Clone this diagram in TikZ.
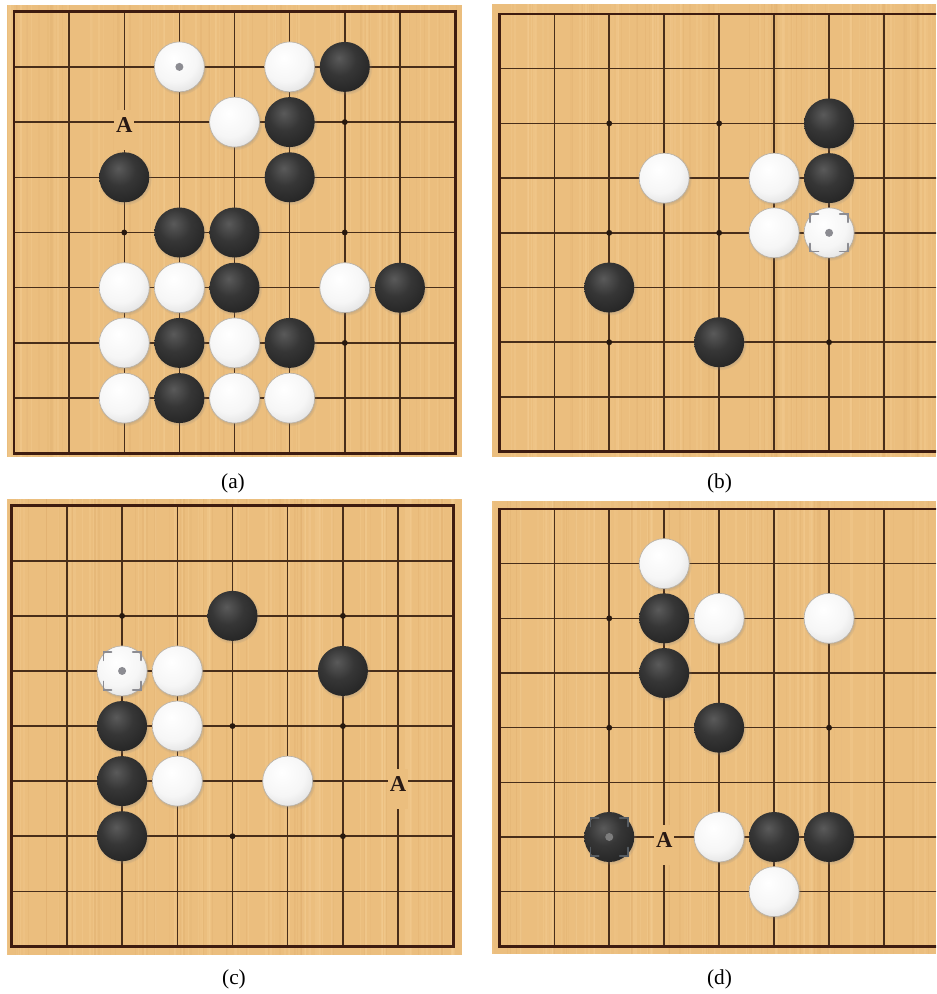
\documentclass[tikz,border=0pt]{standalone}
\usepackage{fontspec}
\setmainfont{Liberation Serif}
\usetikzlibrary{shadows}
\definecolor{boardbg}{RGB}{235,190,126}
\definecolor{gridcol}{RGB}{72,46,26}
\definecolor{bordercol}{RGB}{62,28,16}
\definecolor{starcol}{RGB}{40,25,15}
\definecolor{bhi}{RGB}{90,90,90}
\definecolor{bmid}{RGB}{54,54,54}
\definecolor{bedge}{RGB}{26,26,26}
\definecolor{whi}{RGB}{255,255,255}
\definecolor{wmid}{RGB}{246,246,246}
\definecolor{wedge}{RGB}{206,206,206}
\definecolor{wrim}{RGB}{185,178,168}
\definecolor{markgray}{RGB}{140,140,146}
\definecolor{markdark}{RGB}{86,92,98}
\definecolor{markdot}{RGB}{125,125,125}
\definecolor{grainlight}{RGB}{250,215,160}
\definecolor{graindark}{RGB}{205,150,85}
\definecolor{labelcol}{RGB}{40,25,20}
\pgfdeclareradialshading{bstoneshade}{\pgfpoint{-6bp}{9bp}}{color(0bp)=(bhi); color(16bp)=(bmid); color(44bp)=(bedge); color(100bp)=(bedge)}
\pgfdeclareradialshading{wstoneshade}{\pgfpoint{-6bp}{9bp}}{color(0bp)=(whi); color(22bp)=(wmid); color(46bp)=(wedge); color(100bp)=(wedge)}
\tikzset{
  boardfill/.style={fill=boardbg},
  gridline/.style={draw=gridcol, line width=1.15pt},
  boardborder/.style={draw=bordercol, line width=2.2pt},
  starpt/.style={circle, fill=starcol, minimum size=4.4pt, inner sep=0pt},
  stone/.style={circle, minimum size=37.5pt, inner sep=0pt,
    circular drop shadow={shadow xshift=0.5pt, shadow yshift=-0.8pt, shadow scale=1.08, opacity=0.32}},
  bstone/.style={stone, shading=bstoneshade},
  wstone/.style={stone, shading=wstoneshade, draw=wrim, line width=0.5pt},
  pointmark/.style={font=\rmfamily\bfseries\fontsize{17}{17}\selectfont, text=labelcol,
    fill=boardbg, inner sep=0pt, minimum width=15pt, text height=17pt, text depth=13pt,
    anchor=base, yshift=-7.8pt},
  captiontext/.style={font=\fontsize{16}{19}\selectfont, anchor=base},
}
\newcommand\lastmove[3]{%
  \draw[#2, line width=1.4pt, line cap=round]
    ([shift={(-14pt,8pt)}]#1.center) -- ++(0,6pt) -- ++(6pt,0)
    ([shift={(8pt,14pt)}]#1.center) -- ++(6pt,0) -- ++(0,-6pt)
    ([shift={(14pt,-8pt)}]#1.center) -- ++(0,-6pt) -- ++(-6pt,0)
    ([shift={(-8pt,-14pt)}]#1.center) -- ++(-6pt,0) -- ++(0,6pt);
  \fill[#3] (#1.center) circle (3pt);
}
\newcommand\woodgrain[4]{%
  \foreach \k in {1,...,70}{%
    \pgfmathsetmacro\gx{#1+rnd*(#3-#1)}%
    \pgfmathsetmacro\gw{0.6+2.2*rnd}%
    \pgfmathsetmacro\go{0.10+0.15*rnd}%
    \fill[grainlight, opacity=\go] (\gx,#2) rectangle (\gx+\gw,#4);
  }
  \foreach \k in {1,...,40}{%
    \pgfmathsetmacro\gx{#1+rnd*(#3-#1)}%
    \pgfmathsetmacro\gw{0.5+1.2*rnd}%
    \pgfmathsetmacro\go{0.06+0.10*rnd}%
    \fill[graindark, opacity=\go] (\gx,#2) rectangle (\gx+\gw,#4);
  }
}
\begin{document}
\begin{tikzpicture}[x=0.75pt, y=-0.75pt]
\useasboundingbox (0,0) rectangle (936,994);
\clip (0,0) rectangle (936,994);
\pgfmathsetseed{4321}

% ---------- backgrounds ----------
\fill[boardfill] (6.7,5) rectangle (461.7,456.7);
\fill[boardfill] (491.7,4) rectangle (936,457);
\fill[boardfill] (6.7,499) rectangle (461.7,955);
\fill[boardfill] (491.7,501.3) rectangle (936,954);
\woodgrain{6.7}{5}{459}{456.7}
\woodgrain{491.7}{4}{934}{457}
\woodgrain{6.7}{499}{459}{955}
\woodgrain{491.7}{501.3}{934}{954}

% ---------- board (a) ----------
\begin{scope}[shift={(10.5pt,-8.775pt)}, x=41.35pt, y=-41.4pt]
  \foreach \i in {1,...,7}{
    \draw[gridline] (\i,0) -- (\i,8);
    \draw[gridline] (0,\i) -- (8,\i);
  }
  \draw[boardborder] (0,0) rectangle (8,8);
  \foreach \c/\r in {6/2,2/4,6/4,6/6}
    \node[starpt] (a-star-\c-\r) at (\c,\r) {};
  \node[pointmark] (a-A) at (2,2) {A};
  \foreach \c/\r in {3/1,5/1,4/2,2/5,3/5,6/5,2/6,4/6,2/7,4/7,5/7}
    \node[wstone] (a-w-\c-\r) at (\c,\r) {};
  \foreach \c/\r in {6/1,5/2,2/3,5/3,3/4,4/4,4/5,7/5,3/6,5/6,3/7}
    \node[bstone] (a-b-\c-\r) at (\c,\r) {};
  \fill[markgray] (a-w-3-1.center) circle (3pt);
\end{scope}

% ---------- board (b) ----------
\begin{scope}[shift={(374.475pt,-10.5pt)}, x=41.22pt, y=-41.03pt]
  \foreach \i in {1,...,7}{
    \draw[gridline] (\i,0) -- (\i,8);
    \draw[gridline] (0,\i) -- (8.4,\i);
  }
  \draw[boardborder] (8.4,0) -- (0,0) -- (0,8) -- (8.4,8);
  \foreach \c/\r in {2/2,4/2,2/4,4/4,2/6,6/6}
    \node[starpt] (b-star-\c-\r) at (\c,\r) {};
  \foreach \c/\r in {3/3,5/3,5/4,6/4}
    \node[wstone] (b-w-\c-\r) at (\c,\r) {};
  \foreach \c/\r in {6/2,6/3,2/5,4/6}
    \node[bstone] (b-b-\c-\r) at (\c,\r) {};
  \lastmove{b-w-6-4}{markgray}{markgray}
\end{scope}

% ---------- board (c) ----------
\begin{scope}[shift={(8.775pt,-379.275pt)}, x=41.4pt, y=-41.31pt]
  \foreach \i in {1,...,7}{
    \draw[gridline] (\i,0) -- (\i,8);
    \draw[gridline] (0,\i) -- (8,\i);
  }
  \draw[boardborder] (0,0) rectangle (8,8);
  \foreach \c/\r in {2/2,6/2,4/4,6/4,4/6,6/6}
    \node[starpt] (c-star-\c-\r) at (\c,\r) {};
  \node[pointmark] (c-A) at (7,5) {A};
  \foreach \c/\r in {2/3,3/3,3/4,3/5,5/5}
    \node[wstone] (c-w-\c-\r) at (\c,\r) {};
  \foreach \c/\r in {4/2,6/3,2/4,2/5,2/6}
    \node[bstone] (c-b-\c-\r) at (\c,\r) {};
  \lastmove{c-w-2-3}{markgray}{markgray}
\end{scope}

% ---------- board (d) ----------
\begin{scope}[shift={(374.475pt,-381.75pt)}, x=41.22pt, y=-41.0pt]
  \foreach \i in {1,...,7}{
    \draw[gridline] (\i,0) -- (\i,8);
    \draw[gridline] (0,\i) -- (8.4,\i);
  }
  \draw[boardborder] (8.4,0) -- (0,0) -- (0,8) -- (8.4,8);
  \foreach \c/\r in {2/2,2/4,6/4}
    \node[starpt] (d-star-\c-\r) at (\c,\r) {};
  \node[pointmark] (d-A) at (3,6) {A};
  \foreach \c/\r in {3/1,4/2,6/2,4/6,5/7}
    \node[wstone] (d-w-\c-\r) at (\c,\r) {};
  \foreach \c/\r in {3/2,3/3,4/4,2/6,5/6,6/6}
    \node[bstone] (d-b-\c-\r) at (\c,\r) {};
  \lastmove{d-b-2-6}{markdark}{markdot}
\end{scope}

% ---------- captions ----------
\node[captiontext] (cap-a) at (233,488) {(a)};
\node[captiontext] (cap-b) at (719.5,488) {(b)};
\node[captiontext] (cap-c) at (234,984) {(c)};
\node[captiontext] (cap-d) at (719.5,984) {(d)};
\end{tikzpicture}
\end{document}
